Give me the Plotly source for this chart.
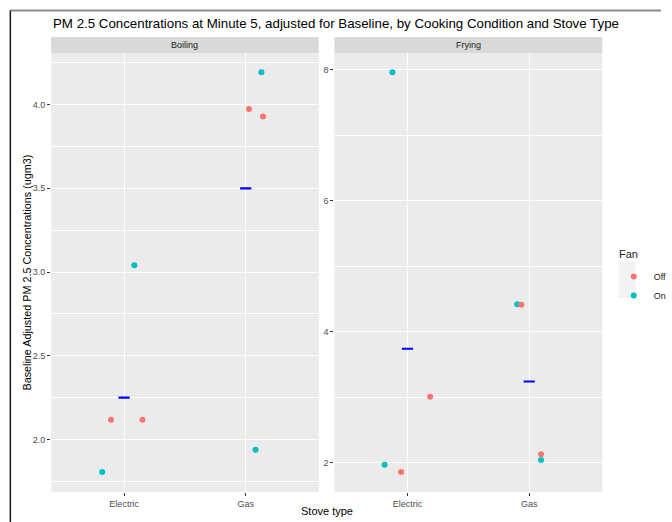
import plotly.graph_objects as go

# ---------------- data ----------------
conditions = ["Boiling", "Frying"]
stove_types = ["Electric", "Gas"]
fan_levels = ["Off", "On"]
fan_colors = ["#F8766D", "#00BFC4"]

obs_condition = ["Boiling"] * 8 + ["Frying"] * 8
obs_stove = ["Electric", "Electric", "Electric", "Electric", "Gas", "Gas", "Gas", "Gas",
             "Electric", "Electric", "Electric", "Electric", "Gas", "Gas", "Gas", "Gas"]
obs_fan = ["Off", "Off", "On", "On", "Off", "Off", "On", "On",
           "Off", "Off", "On", "On", "Off", "Off", "On", "On"]
obs_pm25 = [2.117, 2.117, 3.04, 1.805, 3.973, 3.929, 4.193, 1.938,
            3.008, 1.858, 7.96, 1.97, 4.41, 2.128, 4.42, 2.04]
obs_jitter = [-0.108, 0.151, 0.084, -0.18, 0.027, 0.142, 0.129, 0.081,
              0.186, -0.053, -0.124, -0.188, -0.065, 0.097, -0.099, 0.097]

mean_condition = ["Boiling", "Boiling", "Frying", "Frying"]
mean_stove = ["Electric", "Gas", "Electric", "Gas"]
mean_pm25 = [2.25, 3.50, 3.74, 3.24]

y_ranges = {"Boiling": [1.686, 4.308], "Frying": [1.553, 8.255]}
y_major = {"Boiling": [2.0, 2.5, 3.0, 3.5, 4.0], "Frying": [2, 4, 6, 8]}
y_major_text = {"Boiling": ["2.0", "2.5", "3.0", "3.5", "4.0"], "Frying": ["2", "4", "6", "8"]}
y_minor = {"Boiling": [1.75, 2.25, 2.75, 3.25, 3.75, 4.25], "Frying": [3, 5, 7]}

# ---------------- layout helpers ----------------
W, H = 672, 522
def px_x(v):
    return v / W
def px_y(v):
    return 1 - v / H

FONT = "Liberation Sans, Arial, Helvetica, sans-serif"
panel_x = {"Boiling": (52, 324), "Frying": (340, 612.3)}
panel_top, panel_bottom = 53, 492
strip_top = 37

fig = go.Figure()

stove_pos = {s: i + 1 for i, s in enumerate(stove_types)}

for ci, cond in enumerate(conditions):
    suffix = "" if ci == 0 else str(ci + 1)
    # points per fan level (On drawn first so Off lies on top)
    for fi in [1, 0]:
        fan = fan_levels[fi]
        xs, ys = [], []
        for c, s, f, v, j in zip(obs_condition, obs_stove, obs_fan, obs_pm25, obs_jitter):
            if c == cond and f == fan:
                xs.append(stove_pos[s] + j)
                ys.append(v)
        fig.add_trace(go.Scatter(
            x=xs, y=ys, mode="markers", name=fan,
            legendgroup=fan, showlegend=(ci == 0), legendrank=fi + 1,
            marker=dict(color=fan_colors[fi], size=6, line=dict(width=0)),
            xaxis="x" + suffix, yaxis="y" + suffix,
        ))
    mx, my = [], []
    for c, s, v in zip(mean_condition, mean_stove, mean_pm25):
        if c == cond:
            mx.append(stove_pos[s])
            my.append(v)
    fig.add_trace(go.Scatter(
        x=mx, y=my, mode="markers", showlegend=False, name="mean",
        marker=dict(symbol="line-ew", size=8, line=dict(color="#0000FF", width=2.2)),
        xaxis="x" + suffix, yaxis="y" + suffix,
    ))

axis_common = dict(
    showline=False, zeroline=False, ticks="outside", ticklen=3, tickwidth=1,
    tickcolor="#333333", gridcolor="white", gridwidth=1.1,
    tickfont=dict(family=FONT, size=9, color="#4D4D4D"),
)

layout = dict(
    width=W, height=H, margin=dict(l=0, r=0, t=0, b=0),
    paper_bgcolor="white", plot_bgcolor="#EBEBEB",
    font=dict(family=FONT),
    showlegend=True,
    legend=dict(
        x=px_x(624), y=px_y(262), xanchor="left", yanchor="top",
        font=dict(family=FONT, size=9, color="#1A1A1A"),
        bgcolor="rgba(0,0,0,0)", tracegroupgap=0,
    ),
)

for ci, cond in enumerate(conditions):
    suffix = "" if ci == 0 else str(ci + 1)
    x0, x1 = panel_x[cond]
    layout["xaxis" + suffix] = dict(
        axis_common, domain=[px_x(x0), px_x(x1)], range=[0.4, 2.6],
        tickvals=[stove_pos[s] for s in stove_types], ticktext=stove_types,
        anchor="y" + suffix, showgrid=True,
    )
    layout["yaxis" + suffix] = dict(
        axis_common, domain=[px_y(panel_bottom), px_y(panel_top)], range=y_ranges[cond],
        tickvals=y_major[cond], ticktext=y_major_text[cond],
        anchor="x" + suffix, showgrid=True,
        minor=dict(tickvals=y_minor[cond], showgrid=True, gridcolor="white", gridwidth=0.5, ticks=""),
    )

fig.update_layout(**layout)

shapes = []
annotations = []
for cond in conditions:
    x0, x1 = panel_x[cond]
    shapes.append(dict(type="rect", xref="paper", yref="paper",
                       x0=px_x(x0), x1=px_x(x1), y0=px_y(panel_top), y1=px_y(strip_top),
                       fillcolor="#D9D9D9", line=dict(width=0), layer="below"))
    annotations.append(dict(text=cond, xref="paper", yref="paper",
                            x=px_x((x0 + x1) / 2), y=px_y((strip_top + panel_top) / 2),
                            xanchor="center", yanchor="middle", showarrow=False,
                            font=dict(family=FONT, size=9, color="#1A1A1A")))

# legend key background
shapes.append(dict(type="rect", xref="paper", yref="paper",
                   x0=px_x(629), x1=px_x(646), y0=px_y(298), y1=px_y(262),
                   fillcolor="#F2F2F2", line=dict(width=0), layer="below"))

# screenshot frame
shapes.append(dict(type="line", xref="paper", yref="paper",
                   x0=px_x(10.5), x1=1, y0=px_y(10.5), y1=px_y(10.5),
                   line=dict(color="#8C8C8C", width=2)))
shapes.append(dict(type="line", xref="paper", yref="paper",
                   x0=px_x(10.5), x1=px_x(10.5), y0=px_y(10.5), y1=0,
                   line=dict(color="#1A1A1A", width=1.5)))

annotations.append(dict(
    text="PM 2.5 Concentrations at Minute 5, adjusted for Baseline, by Cooking Condition and Stove Type",
    xref="paper", yref="paper", x=px_x(52), y=px_y(24), xanchor="left", yanchor="middle",
    showarrow=False, font=dict(family=FONT, size=13.3, color="#000000")))
annotations.append(dict(
    text="Baseline Adjusted PM 2.5 Concentrations (ugm3)", textangle=-90,
    xref="paper", yref="paper", x=px_x(27), y=px_y(273), xanchor="center", yanchor="middle",
    showarrow=False, font=dict(family=FONT, size=10.8, color="#000000")))
annotations.append(dict(
    text="Stove type", xref="paper", yref="paper", x=px_x(332), y=px_y(511),
    xanchor="center", yanchor="middle", showarrow=False,
    font=dict(family=FONT, size=11, color="#000000")))
annotations.append(dict(
    text="Fan", xref="paper", yref="paper", x=px_x(627), y=px_y(254),
    xanchor="left", yanchor="middle", showarrow=False,
    font=dict(family=FONT, size=11, color="#1A1A1A")))

fig.update_layout(shapes=shapes, annotations=annotations)

fig.write_html("out.html", config={"displayModeBar": False},
               post_script="document.body.style.margin='0';")
